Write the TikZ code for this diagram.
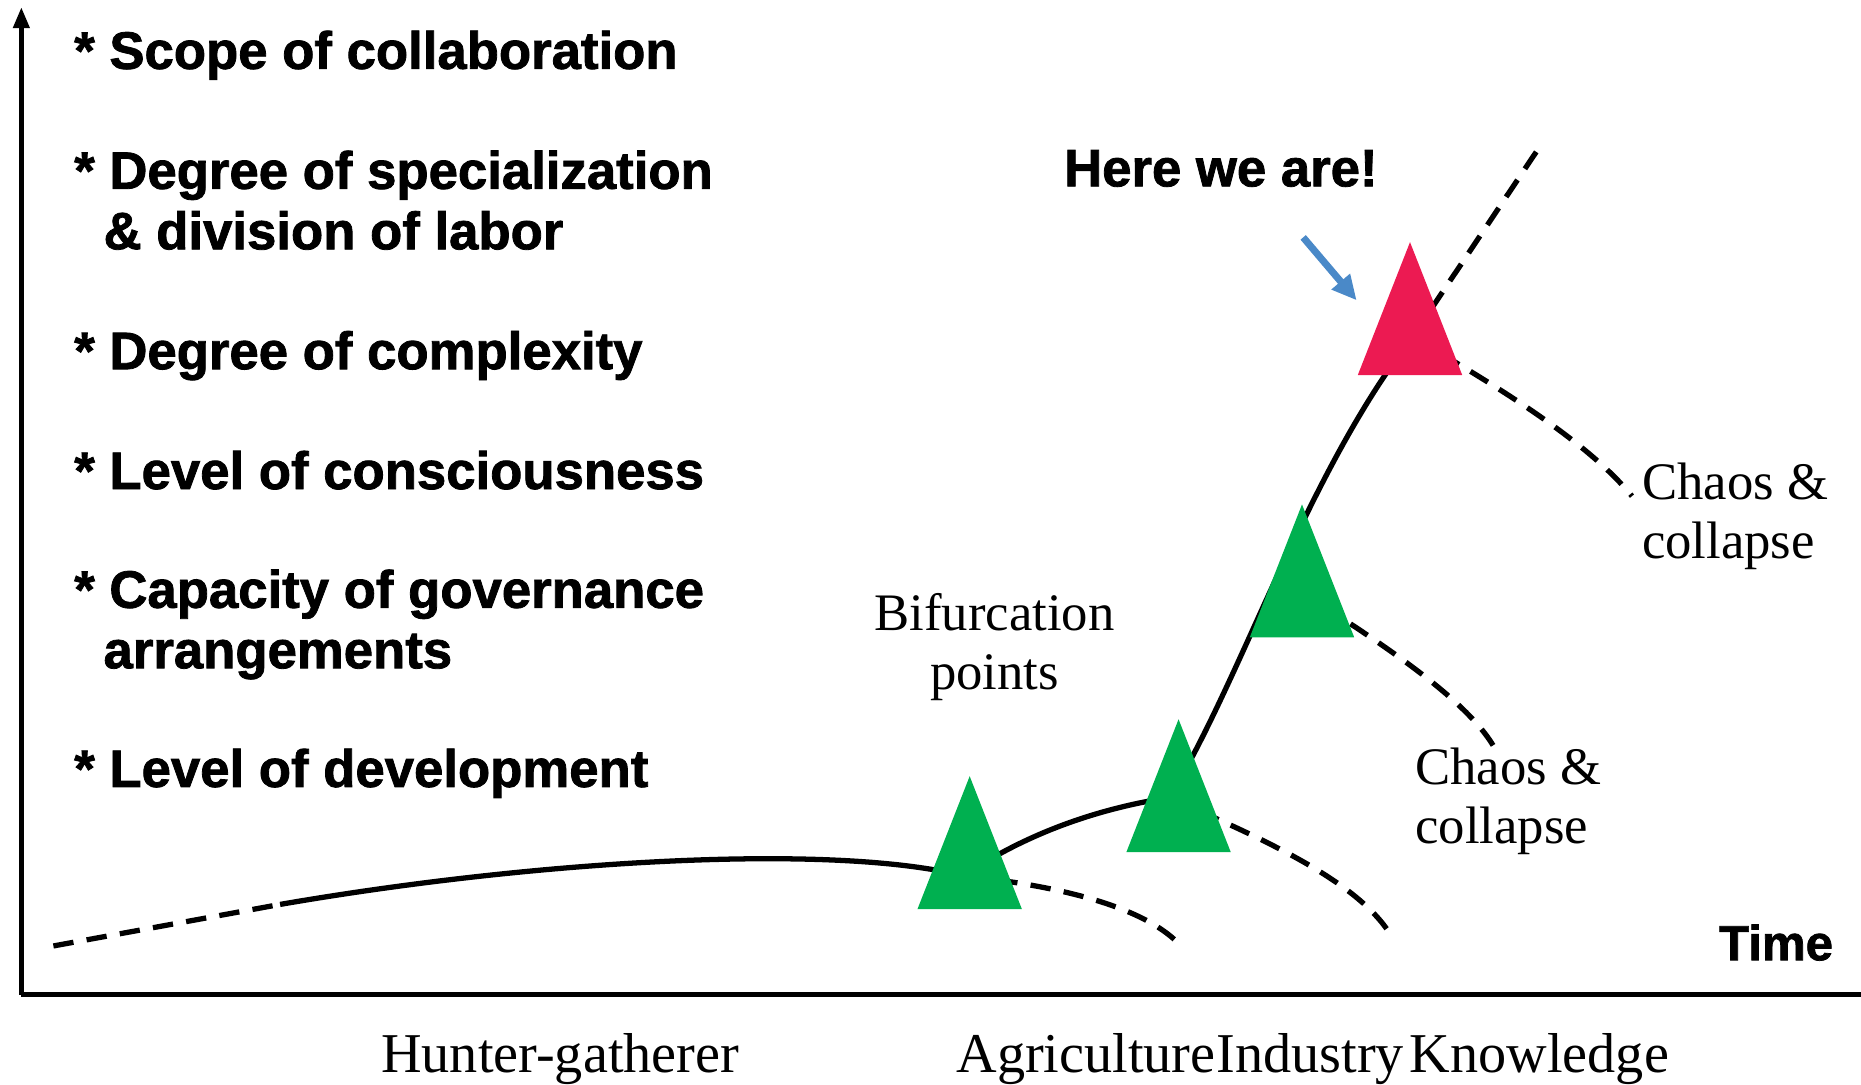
\documentclass[tikz,border=0pt]{standalone}
\usepackage{fontspec}
\setmainfont{Liberation Serif}
\setsansfont{Liberation Sans}[BoldFeatures={FakeBold=1.5}]
\usetikzlibrary{arrows.meta}

\definecolor{bifgreen}{HTML}{00B050}
\definecolor{nowred}{HTML}{EC1A52}
\definecolor{hereblue}{HTML}{4A89C8}

\tikzset{
  trend/.style={line width=1.5pt},
  branch/.style={line width=1.5pt, dash pattern=on 5.8pt off 3.8pt},
  listitem/.style={anchor=base west, align=left, inner sep=0,
    font=\sffamily\bfseries\fontsize{15}{17.2}\selectfont},
  era/.style={anchor=base, inner sep=0, font=\fontsize{16}{17}\selectfont},
  note/.style={align=left, inner sep=0, font=\fontsize{15}{16.9}\selectfont},
}

\begin{document}
\begin{tikzpicture}[x=0.011869cm, y=-0.011869cm]
 \useasboundingbox (0,0) rectangle (1568,914);

% Axes
 \coordinate (origin) at (18,838);
 \coordinate (ytop) at (18,6);
 \coordinate (xend) at (1568,838);
 \draw[line width=1.4pt, -{Triangle[length=6pt,width=4.5pt]}] (origin) -- (ytop);
 \draw[line width=1.4pt] (origin) -- (xend);
 \node[anchor=base east, inner sep=0, font=\sffamily\bfseries\fontsize{14}{16}\selectfont] (time) at (1545,809) {Time};

% What grows along the vertical axis (base = last line)
 \node[listitem] (scope) at (62,58) {* Scope of collaboration};
 \node[listitem] (spec) at (62,210) {* Degree of specialization\\\hphantom{*}\,\& division of labor};
 \node[listitem] (compl) at (62,311) {* Degree of complexity};
 \node[listitem] (consc) at (62,412) {* Level of consciousness};
 \node[listitem] (gov) at (62,563) {* Capacity of governance\\\hphantom{*}\,arrangements};
 \node[listitem] (devel) at (62,663) {* Level of development};

% Bifurcation points (hub = where the paths meet, tri = base centre)
 \coordinate (start) at (45,797);
 \coordinate (hunt) at (236,762);
 \coordinate (bif1) at (812,738);
 \coordinate (bif2) at (985,672);
 \coordinate (bif3) at (1090,495);
 \coordinate (now) at (1190,284);
 \coordinate (tri1) at (817,766);
 \coordinate (tri2) at (993,718);
 \coordinate (tri3) at (1097,537);
 \coordinate (tri4) at (1188,316);

% Loose ends of the dashed branches
 \coordinate (fall1) at (990,792);
 \coordinate (fall2) at (1170,785);
 \coordinate (fall3) at (1258,628);
 \coordinate (fall4) at (1375,418);
 \coordinate (future) at (1295,127);

% Main path of development
 \draw[branch] (start) -- (hunt); % early history
 \draw[trend] (hunt) .. controls (450,725) and (700,710) .. (bif1);
 \draw[trend] (bif1) .. controls (860,705) and (920,682) .. (bif2);
 \draw[trend] (bif2) .. controls (1045,575) and (1100,400) .. (now);
 \draw[branch] (now) -- (future); % next step, not yet taken

% Ways down to chaos & collapse
 \draw[branch] (bif1) .. controls (880,745) and (955,760) .. (fall1);
 \draw[branch] (bif2) .. controls (1060,705) and (1140,740) .. (fall2);
 \draw[branch] (bif3) .. controls (1170,545) and (1235,590) .. (fall3);
 \draw[branch] (now) .. controls (1270,330) and (1340,375) .. (fall4);

% Triangles on top of the paths
 \foreach \t/\c in {tri1/bifgreen, tri2/bifgreen, tri3/bifgreen, tri4/nowred}
  \fill[\c] (\t) ++(-44,0) -- ++(88,0) -- ++(-44,-112) -- cycle;

% Labels
 \node[note, align=center] (bifpts) at (838,545) {Bifurcation\\points};
 \node[note, anchor=west] (chaos1) at (1192,675) {Chaos \&\\collapse};
 \node[note, anchor=west] (chaos2) at (1383,435) {Chaos \&\\collapse};
 \node[anchor=base west, inner sep=0, font=\sffamily\bfseries\fontsize{15}{17}\selectfont] (here) at (896,157) {Here we are!};
 \coordinate (pointer) at (1098,200);
 \coordinate (pointtip) at (1143,253);
 \draw[hereblue, line width=2pt, -{Triangle[length=7pt,width=6.5pt]}] (pointer) -- (pointtip);

% Eras along the time axis
 \node[era] (hg) at (472,904) {Hunter-gatherer};
 \node[era] (agr) at (915,904) {Agriculture};
 \node[era] (ind) at (1104,904) {Industry};
 \node[era] (know) at (1297,904) {Knowledge};

\end{tikzpicture}
\end{document}
